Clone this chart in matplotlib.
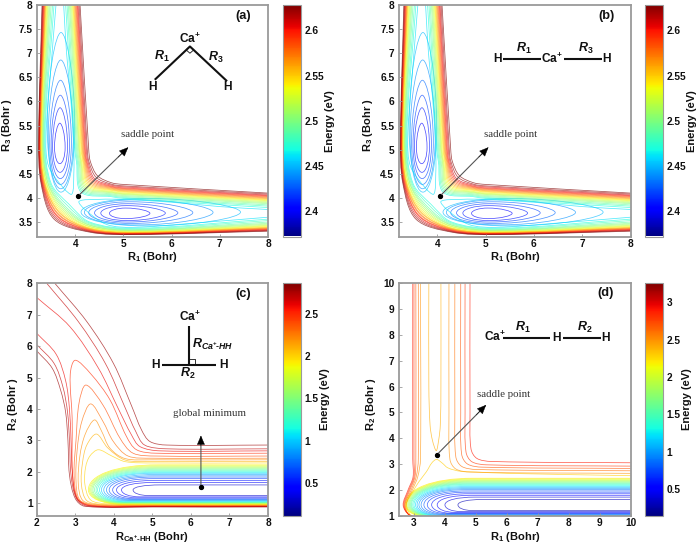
import matplotlib
matplotlib.use('Agg')
import numpy as np
import matplotlib.pyplot as plt
from matplotlib.path import Path
from matplotlib.patches import PathPatch
from matplotlib.colors import Normalize
from matplotlib.cm import ScalarMappable

plt.rcParams['font.family'] = ['Liberation Sans', 'DejaVu Sans']
plt.rcParams['font.weight'] = 'bold'
plt.rcParams['mathtext.fontset'] = 'custom'
plt.rcParams['mathtext.bf'] = 'Liberation Sans:bold'
plt.rcParams['mathtext.rm'] = 'Liberation Sans:bold'
plt.rcParams['mathtext.it'] = 'Liberation Sans:italic:bold'
plt.rcParams['mathtext.default'] = 'bf'

W, H = 700, 547
# ---------------- panels a, b: contour levels ----------------
well_levels = [2.40, 2.41, 2.42, 2.43, 2.44, 2.45]
well_left = [4.71, 4.53, 4.40, 4.28, 4.19, 4.12]
well_right = [5.55, 5.87, 6.13, 6.44, 6.86, 7.43]
well_low = [3.57, 3.53, 3.50, 3.47, 3.44, 3.42]
well_high = [3.79, 3.84, 3.88, 3.92, 3.96, 3.99]
open_level = 2.46
open_x = [8, 7, 6, 5, 4.5, 4.08, 4.2, 4.65, 5.2, 6.5, 8]
open_y = [3.76, 3.82, 3.91, 3.97, 3.97, 3.93, 3.76, 3.45, 3.39, 3.48, 3.6]
ab_levels = [2.47, 2.48, 2.49, 2.50, 2.51, 2.52, 2.53, 2.54, 2.55, 2.56, 2.57, 2.58, 2.59, 2.60, 2.61, 2.62, 2.63]
inner_at8 = [3.56, 3.53, 3.50, 3.475, 3.455, 3.435, 3.42, 3.405, 3.39, 3.38, 3.37, 3.36, 3.35, 3.34, 3.33, 3.32, 3.31]
inner_at5 = [3.37, 3.355, 3.34, 3.33, 3.32, 3.31, 3.30, 3.29, 3.285, 3.28, 3.27, 3.265, 3.26, 3.255, 3.25, 3.245, 3.24]
inner_at43 = [3.50, 3.48, 3.46, 3.44, 3.43, 3.41, 3.40, 3.38, 3.37, 3.36, 3.35, 3.34, 3.33, 3.32, 3.31, 3.30, 3.29]
inner_diag = [3.87, 3.84, 3.81, 3.79, 3.77, 3.75, 3.73, 3.71, 3.69, 3.68, 3.66, 3.65, 3.63, 3.62, 3.60, 3.58, 3.56]
outer_at8 = [3.80, 3.83, 3.855, 3.88, 3.90, 3.92, 3.94, 3.955, 3.97, 3.985, 4.0, 4.015, 4.03, 4.045, 4.06, 4.08, 4.10]
outer_at5 = [3.99, 4.01, 4.03, 4.05, 4.07, 4.085, 4.10, 4.12, 4.135, 4.15, 4.165, 4.18, 4.195, 4.21, 4.23, 4.25, 4.28]
outer_diag = [4.12, 4.14, 4.16, 4.18, 4.20, 4.22, 4.24, 4.26, 4.28, 4.30, 4.32, 4.34, 4.36, 4.38, 4.40, 4.43, 4.46]

# ---------------- panel c ----------------
c_u_levels = [0.3, 0.4, 0.5, 0.6, 0.7, 0.8, 0.9, 1.0, 1.1, 1.2, 1.3, 1.4, 1.5, 1.6, 1.7, 1.8, 1.9]
c_u_tip = [4.50, 4.20, 4.07, 3.97, 3.88, 3.81, 3.74, 3.68, 3.63, 3.58, 3.54, 3.50, 3.46, 3.43, 3.40, 3.37, 3.34]
c_u_high = [1.58, 1.66, 1.72, 1.78, 1.83, 1.87, 1.91, 1.95, 1.98, 2.01, 2.04, 2.07, 2.10, 2.13, 2.16, 2.19, 2.22]
c_u_low = [1.24, 1.20, 1.17, 1.14, 1.12, 1.10, 1.08, 1.06, 1.04, 1.03, 1.02, 1.01, 1.00, 0.99, 0.98, 0.97, 0.96]
c_hump_curves = {
    2.0: ([8, 5, 4.3, 3.95, 3.6, 3.38, 3.27, 3.25, 3.4, 3.8, 5, 8], [2.28, 2.28, 2.32, 2.5, 2.70, 2.5, 2.15, 1.6, 1.1, 0.98, 0.95, 0.95]),
    2.1: ([8, 5, 4.3, 3.85, 3.55, 3.3, 3.19, 3.16, 3.3, 3.7, 5, 8], [2.33, 2.33, 2.37, 2.75, 3.2, 2.85, 2.3, 1.6, 1.08, 0.96, 0.94, 0.94]),
    2.2: ([8, 5, 4.29, 3.9, 3.68, 3.5, 3.26, 3.12, 3.08, 3.2, 3.6, 5, 8], [2.38, 2.38, 2.42, 2.75, 3.3, 3.65, 3.2, 2.5, 1.6, 1.08, 0.95, 0.93, 0.93]),
    2.3: ([8, 5, 4.37, 3.99, 3.72, 3.4, 3.17, 3.05, 3.02, 3.12, 3.5, 5, 8], [2.43, 2.43, 2.5, 2.96, 3.6, 4.16, 3.6, 2.7, 1.7, 1.1, 0.94, 0.92, 0.92]),
    2.4: ([8, 5.1, 4.5, 4.16, 3.72, 3.28, 3.1, 3.02, 2.97, 3.08, 3.45, 5, 8], [2.50, 2.50, 2.59, 3.07, 4.12, 4.76, 4.2, 3.0, 1.9, 1.12, 0.93, 0.91, 0.91]),
    2.5: ([8, 5.1, 4.59, 4.33, 3.9, 3.4, 3.0, 2.87, 2.92, 2.93, 3.05, 3.4, 5, 8], [2.59, 2.59, 2.7, 3.12, 4.29, 5.12, 5.55, 5.1, 3.7, 1.9, 1.14, 0.92, 0.90, 0.90]),
}
c_upper_curves = {
    2.6: ([8, 5.2, 4.68, 4.46, 4.12, 3.6, 2.86, 2.0], [2.665, 2.665, 2.8, 3.17, 4.0, 5.3, 6.62, 7.55]),
    2.7: ([8, 5.37, 4.8, 4.57, 4.29, 3.78, 3.08, 2.26], [2.73, 2.73, 2.85, 3.28, 4.05, 5.45, 6.78, 8]),
    2.8: ([8, 5.37, 4.94, 4.72, 4.46, 3.99, 3.30, 2.47], [2.85, 2.85, 2.96, 3.33, 4.1, 5.45, 6.78, 8]),
}
c_left_curves = {
    2.6: ([2.0, 2.5, 2.75, 2.85, 2.89, 2.93, 3.05, 3.35, 5, 8], [6.41, 5.75, 4.9, 4.0, 3.0, 1.9, 1.15, 0.92, 0.89, 0.89]),
    2.7: ([2.0, 2.45, 2.68, 2.8, 2.85, 2.89, 3.03, 3.3, 5, 8], [6.05, 5.45, 4.7, 3.9, 3.0, 1.9, 1.15, 0.91, 0.885, 0.885]),
    2.8: ([2.0, 2.4, 2.62, 2.75, 2.81, 2.85, 3.0, 3.25, 5, 8], [5.85, 5.3, 4.6, 3.9, 3.0, 1.9, 1.15, 0.90, 0.88, 0.88]),
}

# ---------------- panel d ----------------
d_u_levels = [0.3, 0.4, 0.5, 0.6, 0.7, 0.8, 0.9, 1.0, 1.1, 1.2, 1.3, 1.4, 1.5, 1.6, 1.7, 1.8, 1.9, 2.0, 2.1, 2.2]
d_u_tip = [4.42, 4.0, 3.75, 3.57, 3.43, 3.32, 3.23, 3.16, 3.10, 3.05, 3.0, 2.96, 2.92, 2.89, 2.86, 2.83, 2.80, 2.77, 2.75, 2.72]
d_u_high = [1.63, 1.72, 1.79, 1.85, 1.91, 1.96, 2.01, 2.05, 2.09, 2.13, 2.17, 2.21, 2.24, 2.27, 2.30, 2.33, 2.36, 2.39, 2.42, 2.45]
d_u_low = [1.20, 1.16, 1.13, 1.10, 1.08, 1.06, 1.04, 1.02, 1.00, 0.99, 0.98, 0.97, 0.96, 0.95, 0.94, 0.93, 0.92, 0.91, 0.90, 0.89]
d_saddle_low = (2.3, [10, 6, 5, 4.5, 4.1, 3.9, 3.73, 3.58, 3.4, 3.15, 2.95, 2.76, 2.9, 3.3],
                [2.55, 2.64, 2.69, 2.72, 2.85, 3.05, 3.18, 3.05, 2.7, 2.3, 1.9, 1.45, 1.03, 0.92])
d_saddle_up = (2.4, [3.48, 3.48, 3.52, 3.6, 3.72, 3.8, 3.85, 3.87, 3.87],
               [10, 6, 4.5, 3.9, 3.52, 3.95, 4.5, 6, 10])
d_levels = [2.5, 2.6, 2.7, 2.8, 2.9]
d_right_x = [4.13, 4.32, 4.51, 4.65, 4.81]
d_far_y = [2.64, 2.74, 2.83, 2.92, 3.05]
d_left_x = [3.21, 3.14, 3.06, 3.0, 2.96]
d_left_25 = [3.12, 3.07, 3.03, 3.0, 2.97]
d_left_20 = [2.95, 2.91, 2.87, 2.84, 2.81]
d_left_14 = [2.74, 2.71, 2.69, 2.67, 2.65]

limits = {'a': (3.2, 8, 3.2, 8), 'b': (3.2, 8, 3.2, 8), 'c': (2, 8, 0.6, 8), 'd': (2.5, 10, 1, 10)}
cranges = {'a': (2.372, 2.628), 'b': (2.372, 2.628), 'c': (0.108, 2.868), 'd': (0.147, 3.254)}
cticks = {'a': [2.4, 2.45, 2.5, 2.55, 2.6], 'b': [2.4, 2.45, 2.5, 2.55, 2.6],
          'c': [0.5, 1, 1.5, 2, 2.5], 'd': [0.5, 1, 1.5, 2, 2.5, 3]}
cticklabels = {'a': ['2.4', '2.45', '2.5', '2.55', '2.6'], 'b': ['2.4', '2.45', '2.5', '2.55', '2.6'],
               'c': ['0.5', '1', '1.5', '2', '2.5'], 'd': ['0.5', '1', '1.5', '2', '2.5', '3']}
axes_px = {'a': (36.7, 5, 268, 236.5), 'b': (398.5, 5, 630.7, 236.5),
           'c': (36.7, 283.3, 268, 515.7), 'd': (398.5, 283.3, 630.7, 515.7)}
cbar_px = {'a': (282.5, 5, 300.5, 236.5), 'b': (644.7, 5, 662.7, 236.5),
           'c': (282.5, 283.3, 300.5, 515.7), 'd': (644.7, 283.3, 662.7, 515.7)}

LW = 0.55
ALPHA = 0.68
GRAY = '#9a9a9a'
fig = plt.figure(figsize=(W / 100, H / 100), dpi=100)


def rect(p):
    x0, y0, x1, y1 = p
    return [x0 / W, 1 - y1 / H, (x1 - x0) / W, (y1 - y0) / H]


def smooth(xs, ys):
    """Cubic path through the read points (rendered by matplotlib)."""
    p = np.column_stack([xs, ys]).astype(float)
    d = np.hypot(*np.diff(p, axis=0).T)
    verts = [p[0]]
    codes = [Path.MOVETO]
    tang = np.zeros_like(p)
    for i in range(1, len(p) - 1):
        tang[i] = (p[i + 1] - p[i - 1]) / (d[i - 1] + d[i])
    tang[0] = (p[1] - p[0]) / d[0]
    tang[-1] = (p[-1] - p[-2]) / d[-1]
    for i in range(len(p) - 1):
        verts += [p[i] + tang[i] * d[i] / 3, p[i + 1] - tang[i + 1] * d[i] / 3, p[i + 1]]
        codes += [Path.CURVE4] * 3
    return Path(verts, codes)


def egg(xl, xr, yb, yt):
    yc = (yb + yt) / 2
    xc = xl + 0.40 * (xr - xl)
    k = 0.55
    v = [(xl, yc), (xl, yc + k * (yt - yc)), (xc - k * (xc - xl), yt), (xc, yt),
         (xc + k * (xr - xc), yt), (xr, yc + 0.4 * (yt - yc)), (xr, yc),
         (xr, yc - 0.4 * (yc - yb)), (xc + k * (xr - xc), yb), (xc, yb),
         (xc - k * (xc - xl), yb), (xl, yc - k * (yc - yb)), (xl, yc)]
    return Path(v, [Path.MOVETO] + [Path.CURVE4] * 12)


def ushape(tip, ym, hi, lo, xend):
    wh = 1.2 * (hi - lo) + 0.3
    wl = 0.5 * (hi - lo) + 0.25
    v = [(xend, hi), (tip + wh, hi), (tip + wh * 0.4, hi), (tip, ym + 0.6 * (hi - ym)), (tip, ym),
         (tip, ym - 0.55 * (ym - lo)), (tip + wl * 0.4, lo), (tip + wl, lo), (xend, lo)]
    return Path(v, [Path.MOVETO, Path.LINETO] + [Path.CURVE4] * 6 + [Path.LINETO])


def swap(path):
    return Path(path.vertices[:, ::-1], path.codes)


axes = {}
colors = {}
for key in 'abcd':
    ax = fig.add_axes(rect(axes_px[key]))
    x0, x1, y0, y1 = limits[key]
    ax.set_xlim(x0, x1)
    ax.set_ylim(y0, y1)
    axes[key] = ax
    norm = Normalize(*cranges[key])
    sm = ScalarMappable(norm=norm, cmap='jet')
    colors[key] = sm
    cax = fig.add_axes(rect(cbar_px[key]))
    cb = fig.colorbar(sm, cax=cax)
    cb.set_ticks(cticks[key])
    cb.set_ticklabels(cticklabels[key])
    cb.ax.tick_params(labelsize=7.3, length=0, pad=3, colors='#111111')
    cb.outline.set_edgecolor(GRAY)
    cb.outline.set_linewidth(0.8)
    for s in ax.spines.values():
        s.set_edgecolor(GRAY)
        s.set_linewidth(1.3)
    ax.tick_params(direction='in', length=2, width=0.6, color=GRAY, labelsize=7.3, labelcolor='#111111', pad=3)
    ax.tick_params(axis='x', pad=2)


def add(key, path, level):
    axes[key].add_patch(PathPatch(path, fill=False, lw=LW, edgecolor=colors[key].to_rgba(level), alpha=ALPHA))


for key in 'ab':
    for i, e in enumerate(well_levels):
        p = egg(well_left[i], well_right[i], well_low[i], well_high[i])
        add(key, p, e)
        add(key, swap(p), e)
    p = smooth(open_x, open_y)
    add(key, p, open_level)
    add(key, swap(p), open_level)
    for i, e in enumerate(ab_levels):
        add(key, smooth([8, 5.2, 4.3, inner_diag[i], inner_at43[i], inner_at5[i], inner_at8[i]],
                        [inner_at8[i], inner_at5[i], inner_at43[i], inner_diag[i], 4.3, 5.2, 8]), e)
        add(key, smooth([8, 5, 4.75, outer_diag[i], outer_at5[i] + 0.035, outer_at5[i], outer_at8[i]],
                        [outer_at8[i], outer_at5[i], outer_at5[i] + 0.035, outer_diag[i], 4.75, 5, 8]), e)
    axes[key].set_xticks([4, 5, 6, 7, 8])
    axes[key].set_yticks([3.5, 4, 4.5, 5, 5.5, 6, 6.5, 7, 7.5, 8])
    axes[key].set_yticklabels(['3.5', '4', '4.5', '5', '5.5', '6', '6.5', '7', '7.5', '8'])

for i, e in enumerate(c_u_levels):
    add('c', ushape(c_u_tip[i], 1.42, c_u_high[i], c_u_low[i], 8), e)
for e, (xs, ys) in c_hump_curves.items():
    add('c', smooth(xs, ys), e)
for e, (xs, ys) in c_upper_curves.items():
    add('c', smooth(xs, ys), e)
for e, (xs, ys) in c_left_curves.items():
    add('c', smooth(xs, ys), e)
axes['c'].set_xticks([2, 3, 4, 5, 6, 7, 8])
axes['c'].set_yticks([1, 2, 3, 4, 5, 6, 7, 8])

for i, e in enumerate(d_u_levels):
    add('d', ushape(d_u_tip[i], 1.42, d_u_high[i], d_u_low[i], 10), e)
add('d', smooth(d_saddle_low[1], d_saddle_low[2]), d_saddle_low[0])
add('d', smooth(d_saddle_up[1], d_saddle_up[2]), d_saddle_up[0])
for i, e in enumerate(d_levels):
    xr, yf = d_right_x[i], d_far_y[i]
    add('d', smooth([xr, xr, xr + 0.03, xr + 0.22, xr + 0.7, 10],
                    [10, 5, yf + 0.55, yf + 0.17, yf + 0.05, yf]), e)
    add('d', smooth([d_left_x[i], d_left_x[i], d_left_25[i], d_left_20[i], d_left_14[i], 2.85, 3.3, 10],
                    [10, 3.2, 2.5, 2.0, 1.41, 1.03, 0.92, 0.88]), e)
axes['d'].set_xticks([3, 4, 5, 6, 7, 8, 9, 10])
axes['d'].set_yticks([1, 2, 3, 4, 5, 6, 7, 8, 9, 10])


def note(key, dot, tip, label, lpos):
    ax = axes[key]
    ax.annotate('', xy=tip, xytext=dot, arrowprops=dict(
        arrowstyle='-', color='#555555', lw=0.8, shrinkA=2, shrinkB=1))
    near = (dot[0] + 0.8 * (tip[0] - dot[0]), dot[1] + 0.8 * (tip[1] - dot[1]))
    ax.annotate('', xy=tip, xytext=near, arrowprops=dict(
        arrowstyle='-|>,head_length=0.6,head_width=0.26', color='black', lw=0.3, shrinkA=0, shrinkB=0))
    ax.plot([dot[0]], [dot[1]], 'o', color='black', ms=2.8)
    ax.text(lpos[0], lpos[1], label, family='Liberation Serif', fontweight='normal', fontsize=7.8,
            color='#333333', ha='center', va='center')


note('a', (4.05, 4.03), (5.1, 5.05), 'saddle point', (5.5, 5.32))
note('b', (4.05, 4.03), (5.06, 5.05), 'saddle point', (5.51, 5.32))
note('c', (6.26, 1.5), (6.26, 3.15), 'global minimum', (6.49, 3.86))
note('d', (3.73, 3.35), (5.33, 5.29), 'saddle point', (5.89, 5.7))


def t(key, x, y, s, size=8.6, ha='center'):
    axes[key].text(x, y, s, fontsize=size, ha=ha, va='center', color='#111111')


def seg(key, xs, ys, lw=1.5):
    axes[key].plot(xs, ys, color='#111111', lw=lw, solid_capstyle='butt')


CA = r'Ca$^{+}$'
# (a)
seg('a', [5.65, 6.38, 7.15], [6.45, 7.14, 6.42])
seg('a', [6.30, 6.38, 6.46, 6.38, 6.30], [7.07, 7.0, 7.07, 7.14, 7.07], 0.6)
t('a', 6.38, 7.31, CA)
t('a', 5.80, 6.93, r'$\mathit{R_1}$', 9)
t('a', 6.92, 6.92, r'$\mathit{R_3}$', 9)
t('a', 5.61, 6.31, 'H')
t('a', 7.16, 6.31, 'H')
t('a', 7.49, 7.78, '(a)', 9.2)
# (b)
seg('b', [5.36, 6.14], [6.87, 6.87])
seg('b', [6.62, 7.40], [6.87, 6.87])
t('b', 5.25, 6.87, 'H')
t('b', 6.37, 6.89, CA)
t('b', 7.51, 6.87, 'H')
t('b', 5.79, 7.09, r'$\mathit{R_1}$', 9)
t('b', 7.08, 7.09, r'$\mathit{R_3}$', 9)
t('b', 7.51, 7.78, '(b)', 9.2)
# (c)
seg('c', [5.95, 5.95], [6.64, 5.40])
seg('c', [5.26, 6.66], [5.40, 5.40])
seg('c', [5.95, 6.10, 6.10], [5.58, 5.58, 5.40], 0.6)
t('c', 5.97, 6.95, CA)
t('c', 6.04, 6.04, r'$\mathit{R_{Ca^{+}\!\text{-}HH}}$', 9, ha='left')
t('c', 5.09, 5.40, 'H')
t('c', 6.85, 5.40, 'H')
t('c', 5.93, 5.14, r'$\mathit{R_2}$', 9)
t('c', 7.35, 7.66, '(c)', 9.2)
# (d)
seg('d', [5.86, 7.39], [7.87, 7.87])
seg('d', [7.82, 9.03], [7.87, 7.87])
t('d', 5.62, 7.93, CA)
t('d', 7.61, 7.9, 'H')
t('d', 9.2, 7.9, 'H')
t('d', 6.53, 8.3, r'$\mathit{R_1}$', 9)
t('d', 8.52, 8.3, r'$\mathit{R_2}$', 9)
t('d', 9.2, 9.61, '(d)', 9.2)


def ftext(x, y, s, size=8.0, rot=0):
    fig.text(x / W, 1 - y / H, s, fontsize=size, rotation=rot, ha='center', va='center', color='#111111')


ftext(152, 257.5, r'R$_1$ (Bohr)')
ftext(515, 257.5, r'R$_1$ (Bohr)')
ftext(152, 537, r'R$_{Ca^{+}\text{-}HH}$ (Bohr)')
ftext(515, 537, r'R$_1$ (Bohr)')
ftext(7, 125, r'R$_3$ (Bohr )', rot=90)
ftext(368, 125, r'R$_3$ (Bohr )', rot=90)
ftext(13, 404, r'R$_2$ (Bohr )', rot=90)
ftext(371, 404, r'R$_2$ (Bohr )', rot=90)
ftext(330, 121, 'Energy (eV)', rot=90)
ftext(692, 121, 'Energy (eV)', rot=90)
ftext(325, 399, 'Energy (eV)', rot=90)
ftext(687, 399, 'Energy (eV)', rot=90)

fig.savefig('out.png', dpi=100)
